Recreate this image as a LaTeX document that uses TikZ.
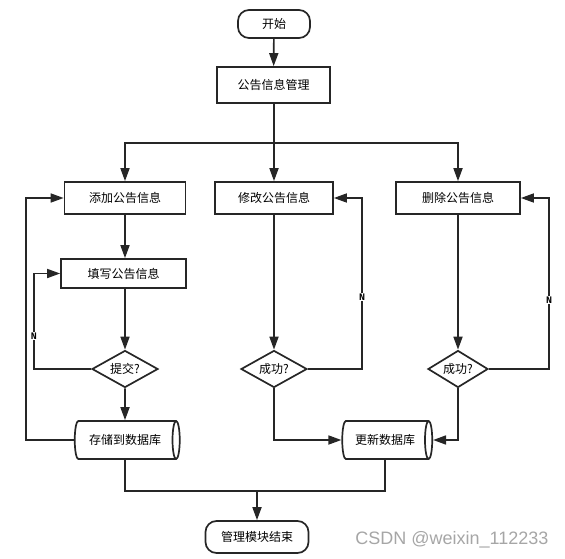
\documentclass[tikz,border=0pt]{standalone}
\usepackage{fontspec}
\setmainfont{Noto Sans CJK SC}
\setmonofont{Liberation Mono}
\newfontfamily\markfont{Liberation Sans}
\usetikzlibrary{arrows.meta,shapes.geometric}

\begin{document}
\begin{tikzpicture}[x=1pt, y=-1pt, line width=1.7pt, draw={black!85},
    >={Triangle[length=13pt,width=9pt]},
    every node/.style={font=\fontsize{12}{14}\selectfont, inner sep=0pt},
    startstop/.style={draw, rounded corners=11pt, minimum width=72pt, minimum height=28pt},
    procbox/.style={draw, rectangle, minimum width=#1, minimum height=32pt},
    decide/.style={draw, diamond, aspect=1.8, minimum width=66pt, minimum height=37pt},
    dbase/.style={draw, cylinder, shape aspect=0.65, minimum height=#1, minimum width=38pt},
    nlabel/.style={fill=white, font=\ttfamily\bfseries\fontsize{10}{11}\selectfont, inner sep=1pt}]
    \useasboundingbox (0,0) rectangle (565,559);

    % top
    \node[startstop] (start) at (274,24) {开始};
    \node[procbox=113pt, minimum height=36pt] (manage) at (273.5,85) {公告信息管理};

    % three branches
    \node[procbox=121pt] (add) at (125,198) {添加公告信息};
    \node[procbox=118pt] (edit) at (274,198) {修改公告信息};
    \node[procbox=124pt] (del) at (458,198) {删除公告信息};

    \node[procbox=125pt, minimum height=29pt] (fill) at (123.5,273.5) {填写公告信息};
    \node[decide] (submit) at (125,369) {提交?};
    \node[decide] (okedit) at (274,369) {成功?};
    \node[decide, minimum width=60pt] (okdel) at (458,369) {成功?};

    \node[dbase=105pt] (store) at (125,440) {存储到数据库};
    \node[dbase=90pt] (update) at (385,440) {更新数据库};
    \node[startstop, minimum width=103pt, minimum height=32pt] (finish) at (257,537) {管理模块结束};

    \coordinate (split) at (274,143);
    \coordinate (join) at (257,491);

    \draw[->] (start) -- (manage);
    \draw (manage.south -| split) -- (split);
    \draw[->] (split) -| (add.north);
    \draw[->] (split) -- (edit.north);
    \draw[->] (split) -| (del.north);

    \draw[->] (add.south) -- (add.south |- fill.north);
    \draw[->] (fill.south -| submit) -- (submit);
    \draw[->] (submit) -- (store);
    \draw[->] (store.west) -- (26,440) |- (add.west);
    \draw[->] (submit.west) -- (34,369) |- (fill.west);
    \node[nlabel] at (34,336) {N};

    \draw[->] (edit) -- (okedit);
    \draw[->] (okedit.east) -- (362,369) |- (edit.east);
    \node[nlabel] at (362,297) {N};
    \draw[->] (okedit.south) |- (update.west);

    \draw[->] (del) -- (okdel);
    \draw[->] (okdel.east) -- (549,369) |- (del.east);
    \node[nlabel] at (549,300) {N};
    \draw[->] (okdel.south) |- (update.east);

    \draw (store.south) |- (join) -| (update.south);
    \draw[->] (join) -- (finish);

    \node[font=\markfont\fontsize{18}{20}\selectfont, text=black!35] (mark) at (452,540) {CSDN @weixin\_112233};
\end{tikzpicture}
\end{document}
